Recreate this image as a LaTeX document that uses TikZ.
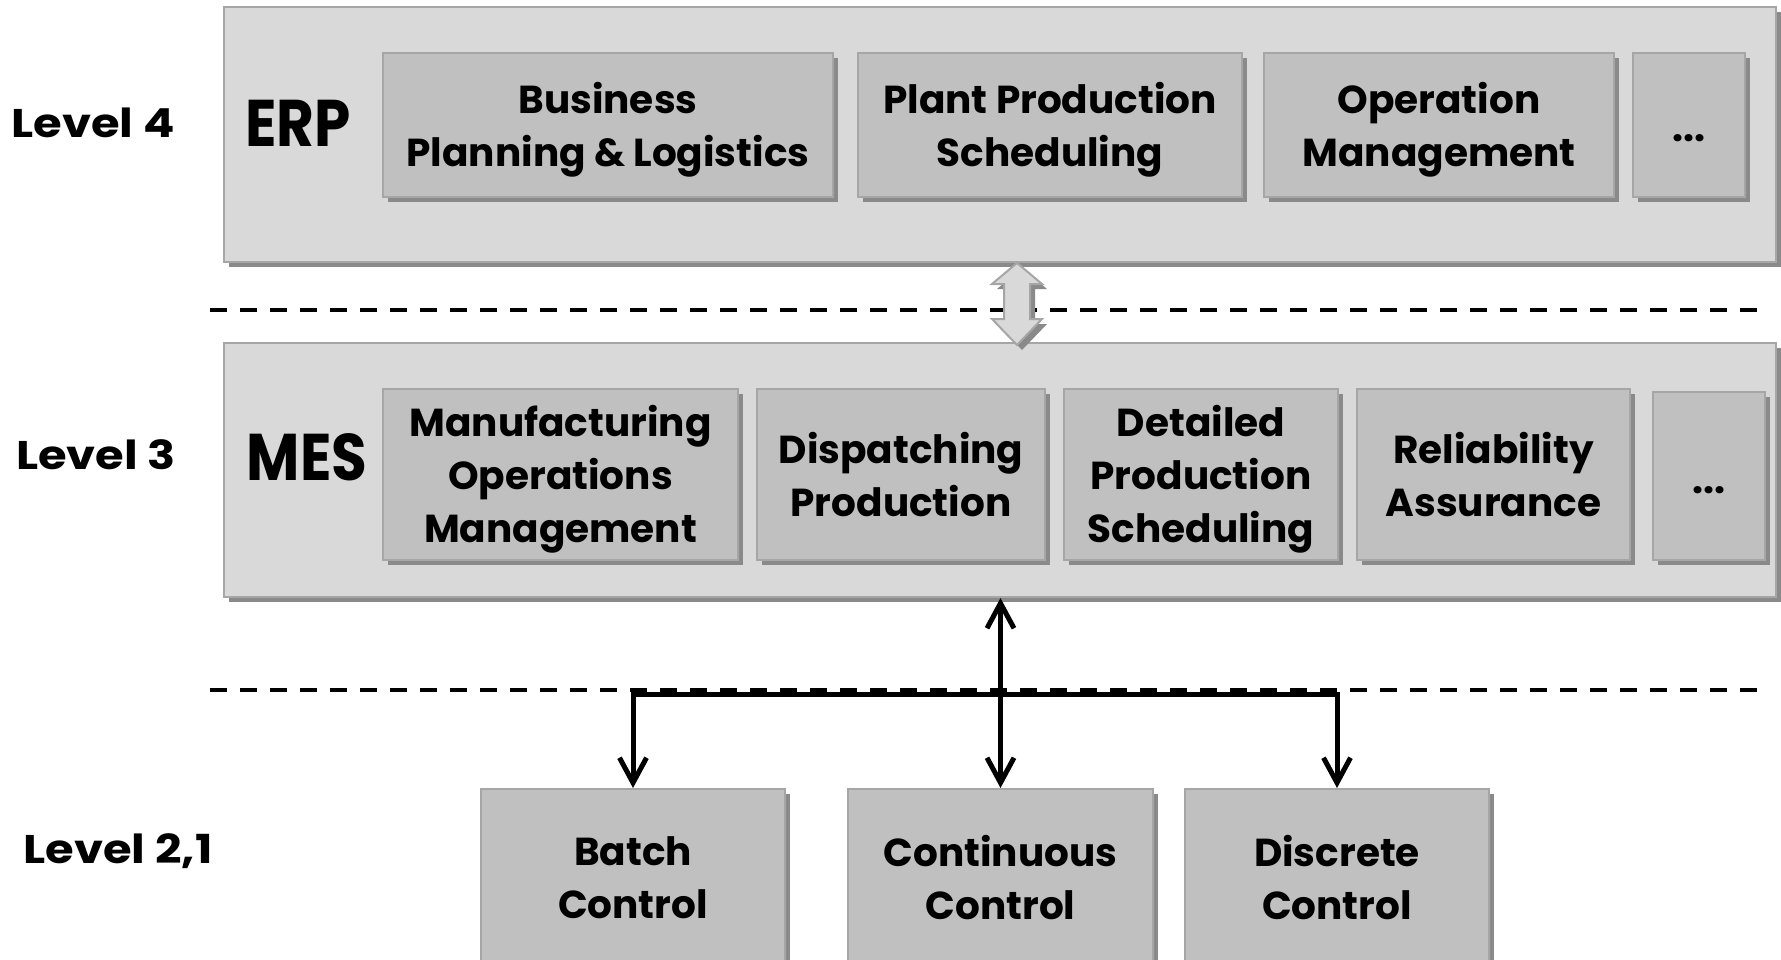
\documentclass[tikz,border=0pt]{standalone}
\usepackage{fontspec}
\setmainfont{Poppins}
\newfontfamily\lvlfont[FakeStretch=1.16]{Poppins}
\newfontfamily\bigfont[FakeStretch=0.88]{Poppins}
\usetikzlibrary{shadows,arrows.meta}
\definecolor{outerfill}{HTML}{D9D9D9}
\definecolor{innerfill}{HTML}{C0C0C0}
\definecolor{edgegray}{HTML}{A6A6A6}
\definecolor{shadowgray}{HTML}{8A8A8A}
\newcommand{\tstr}{\rule{0pt}{41pt}}
\newcommand{\dstr}{\rule[-10pt]{0pt}{54pt}}
\begin{document}
\begin{tikzpicture}[x=1pt,y=-1pt,
  shadowed/.style={drop shadow={shadow xshift=5pt, shadow yshift=-5pt, fill=shadowgray, opacity=1}},
  outerbox/.style={rectangle, draw=edgegray, line width=2pt, fill=outerfill, inner sep=0pt, shadowed},
  innerbox/.style={rectangle, draw=edgegray, line width=2pt, fill=innerfill, inner sep=0pt, align=center,
    font=\fontsize{39}{53}\selectfont\bfseries, shadowed},
  lvl/.style={font=\lvlfont\fontsize{40}{48}\selectfont\bfseries, inner sep=0pt, anchor=base},
  big/.style={font=\bigfont\fontsize{66}{70}\selectfont\bfseries, inner sep=0pt, anchor=base},
  sep/.style={draw=black, line width=4pt, dash pattern=on 17pt off 13pt},
  conn/.style={draw=black, line width=5pt, line cap=butt, line join=miter},
  barb/.tip={Straight Barb[length=25pt, width=27pt, line width=5pt]}
]
\useasboundingbox (0,0) rectangle (1781,960);
\clip (0,0) rectangle (1781,960);

% dashed separators
\coordinate (s1l) at (210,310);
\coordinate (s1r) at (1765,310);
\coordinate (s2l) at (210,690);
\coordinate (s2r) at (1765,690);
\draw[sep] (s1l) -- (s1r);
\draw[sep] (s2l) -- (s2r);

% level labels
\node[lvl] (l4) at (93,138) {Level 4};
\node[lvl] (l3) at (96,469) {Level 3};
\node[lvl] (l21) at (118,863) {Level 2,1};

% ERP
\node[outerbox, minimum width=1552, minimum height=255] (erp) at (1000,134.5) {};
\node[big] (erpt) at (298,147) {ERP};
\node[innerbox, minimum width=450, minimum height=144] (bpl) at (608,125) {\tstr Business\\Planning \& Logistics};
\node[innerbox, minimum width=384, minimum height=144] (pps) at (1050,125) {\tstr Plant Production\\Scheduling};
\node[innerbox, minimum width=350, minimum height=144] (om) at (1439,125) {\tstr Operation\\Management};
\node[innerbox, minimum width=112, minimum height=144] (erpd) at (1689,125) {\dstr...};

% MES
\node[outerbox, minimum width=1552, minimum height=254] (mes) at (1000,470) {};
\node[big] (mest) at (307,480) {MES};
\node[innerbox, minimum width=355, minimum height=171] (mom) at (560.5,474.5) {\tstr Manufacturing\\Operations\\Management};
\node[innerbox, minimum width=288, minimum height=171] (dp) at (901,474.5) {Dispatching\\Production};
\node[innerbox, minimum width=274, minimum height=171] (dps) at (1201,474.5) {\tstr Detailed\\Production\\Scheduling};
\node[innerbox, minimum width=273, minimum height=171] (ra) at (1493.5,474.5) {Reliability\\Assurance};
\node[innerbox, minimum width=112, minimum height=168] (mesd) at (1709,476) {\dstr...};

% gray double arrow between ERP and MES
\coordinate (ga) at (1017,263);
\fill[shadowgray] ([shift={(5,5)}]ga) -- ++(25,21) -- ++(-12,0) -- ++(0,35) -- ++(12,0) -- ++(-25,26)
  -- ++(-25,-26) -- ++(12,0) -- ++(0,-35) -- ++(-12,0) -- cycle;
\filldraw[fill=outerfill, draw=edgegray, line width=2pt, line join=miter] (ga) -- ++(25,21) -- ++(-12,0) -- ++(0,35) -- ++(12,0) -- ++(-25,26)
  -- ++(-25,-26) -- ++(12,0) -- ++(0,-35) -- ++(-12,0) -- cycle;

% control boxes
\node[innerbox, minimum width=304, minimum height=178] (batch) at (633,878) {Batch\\Control};
\node[innerbox, minimum width=305, minimum height=178] (cont) at (1000.5,878) {Continuous\\Control};
\node[innerbox, minimum width=304, minimum height=178] (disc) at (1337,878) {Discrete\\Control};

% connectors
\coordinate (bus) at (0,694);
\draw[conn, barb-barb] (batch.north) -- (batch.north |- bus) -- (disc.north |- bus) -- (disc.north);
\draw[conn, barb-barb] (cont.north) -- (cont.north |- mes.south);
\end{tikzpicture}
\end{document}
